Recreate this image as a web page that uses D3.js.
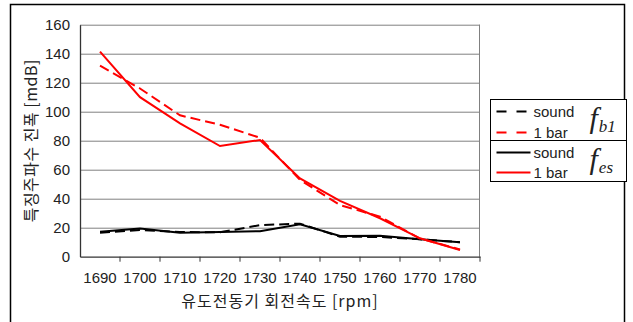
<!DOCTYPE html>
<html>
<head>
<meta charset="utf-8">
<script src="https://cdn.jsdelivr.net/npm/d3@7"></script>
<style>
  body { margin: 0; background: #fff; }
  text { font-family: "Liberation Sans", Arial, "Noto Sans CJK KR", sans-serif; fill: #222; }
  .kr { font-family: "Noto Sans CJK KR", sans-serif; }
</style>
</head>
<body>
<div id="chart"></div>
<script>
var speeds = ["1690", "1700", "1710", "1720", "1730", "1740", "1750", "1760", "1770", "1780"];
var soundFb1 = [16.6, 18.4, 17, 16.8, 21.8, 22.8, 13.8, 13.6, 12, 10];
var barFb1   = [131.7, 116, 97.5, 91, 82, 53, 35.6, 27.6, 12.5, 5];
var soundFes = [17.2, 19.5, 16.6, 17, 17.6, 22.3, 14.3, 14.5, 12, 10];
var barFes   = [141.4, 110, 92, 76.3, 80.5, 54, 38.5, 26.5, 12.7, 4.6];
var yTicks = [0, 20, 40, 60, 80, 100, 120, 140, 160];

var W = 633, H = 322;
var margin = {top: 24.7, left: 80, right: 153, bottom: 65.3};
var width = W - margin.left - margin.right;
var height = H - margin.top - margin.bottom;

var svg = d3.select("#chart").append("svg")
  .attr("width", W)
  .attr("height", H);

// outer frame
svg.append("rect")
  .attr("x", 10.5).attr("y", 4.5)
  .attr("width", 614).attr("height", 330)
  .attr("fill", "none").attr("stroke", "#000").attr("stroke-width", 1.5);

var x = d3.scaleBand().domain(speeds).range([0, width]).paddingInner(0).paddingOuter(0);
var y = d3.scaleLinear().domain([0, 160]).range([height, 0]);

var g = svg.append("g").attr("transform", "translate(" + margin.left + "," + margin.top + ")");

// gridlines
g.selectAll(".grid").data(yTicks.slice(1)).enter().append("line")
  .attr("x1", 0).attr("x2", width)
  .attr("y1", function(d) { return Math.round(y(d)) + 0.5; })
  .attr("y2", function(d) { return Math.round(y(d)) + 0.5; })
  .attr("stroke", "#808080").attr("stroke-width", 1);

g.append("line")
  .attr("x1", width - 0.5).attr("x2", width - 0.5)
  .attr("y1", y(160)).attr("y2", height)
  .attr("stroke", "#808080");

// y axis
var yAxis = g.append("g")
  .call(d3.axisLeft(y).tickValues(yTicks).tickSize(0).tickPadding(10));
yAxis.select(".domain").attr("stroke", "#333").attr("stroke-width", 1.3);
yAxis.selectAll("text").style("font-size", "15px").attr("fill", "#222");

// x axis
var xAxis = g.append("g")
  .attr("transform", "translate(0," + height + ")")
  .call(d3.axisBottom(x).tickSize(0).tickPadding(16).tickSizeOuter(0));
xAxis.select(".domain").attr("stroke", "#333").attr("stroke-width", 1.3);
xAxis.selectAll("text").style("font-size", "15px").attr("fill", "#222");

g.selectAll(".xtick").data(speeds.slice(1).concat(["end"])).enter().append("line")
  .attr("x1", function(d) { return d == "end" ? width : x(d); })
  .attr("x2", function(d) { return d == "end" ? width : x(d); })
  .attr("y1", height).attr("y2", height + 5)
  .attr("stroke", "#333");

// series
var line = d3.line()
  .x(function(d, i) { return x(speeds[i]) + x.bandwidth() / 2; })
  .y(function(d) { return y(d); });

var series = [
  {values: soundFes, color: "#000", dash: null},
  {values: soundFb1, color: "#000", dash: "10,5"},
  {values: barFb1, color: "#ff0000", dash: "10,5"},
  {values: barFes, color: "#ff0000", dash: null}
];

g.selectAll(".series").data(series).enter().append("path")
  .attr("d", function(d) { return line(d.values); })
  .attr("fill", "none")
  .attr("stroke", function(d) { return d.color; })
  .attr("stroke-width", 2)
  .attr("stroke-dasharray", function(d) { return d.dash; });

// axis titles
svg.append("text").attr("class", "kr")
  .attr("x", margin.left + width / 2).attr("y", 307)
  .attr("text-anchor", "middle")
  .style("font-size", "16px")
  .style("letter-spacing", "1px")
  .text("유도전동기 회전속도 [rpm]");

svg.append("text").attr("class", "kr")
  .attr("transform", "translate(37," + (margin.top + height / 2) + ") rotate(-90)")
  .attr("text-anchor", "middle")
  .style("font-size", "16px")
  .style("letter-spacing", "0.5px")
  .text("특징주파수 진폭 [mdB]");

// legend
var lg = svg.append("g").attr("transform", "translate(490.5,99.5)");
lg.append("rect").attr("width", 136).attr("height", 82)
  .attr("fill", "#fff").attr("stroke", "#000");
lg.append("line").attr("x1", 0).attr("x2", 136).attr("y1", 41).attr("y2", 41).attr("stroke", "#000");

var legendItems = [
  {label: "sound", color: "#000", dash: "10,10", y: 12},
  {label: "1 bar", color: "#ff0000", dash: "10,10", y: 33},
  {label: "sound", color: "#000", dash: null, y: 53},
  {label: "1 bar", color: "#ff0000", dash: null, y: 73}
];
var li = lg.selectAll(".li").data(legendItems).enter().append("g")
  .attr("transform", function(d) { return "translate(0," + d.y + ")"; });
li.append("line").attr("x1", 6).attr("x2", 40).attr("y1", 0).attr("y2", 0)
  .attr("stroke", function(d) { return d.color; })
  .attr("stroke-width", 2)
  .attr("stroke-dasharray", function(d) { return d.dash; });
li.append("text").attr("x", 43).attr("y", 5)
  .style("font-size", "15px")
  .text(function(d) { return d.label; });

var subs = ["b1", "es"];
lg.selectAll(".fsym").data(subs).enter().append("text")
  .attr("x", 99).attr("y", function(d, i) { return 28.5 + i * 41; })
  .style("font-family", "'Liberation Serif', 'Times New Roman', serif")
  .style("font-style", "italic")
  .style("font-size", "30px")
  .attr("fill", "#111")
  .text("f")
  .append("tspan")
  .attr("dx", 1).attr("dy", 4)
  .style("font-size", "17px")
  .text(function(d) { return d; });
</script>
</body>
</html>
